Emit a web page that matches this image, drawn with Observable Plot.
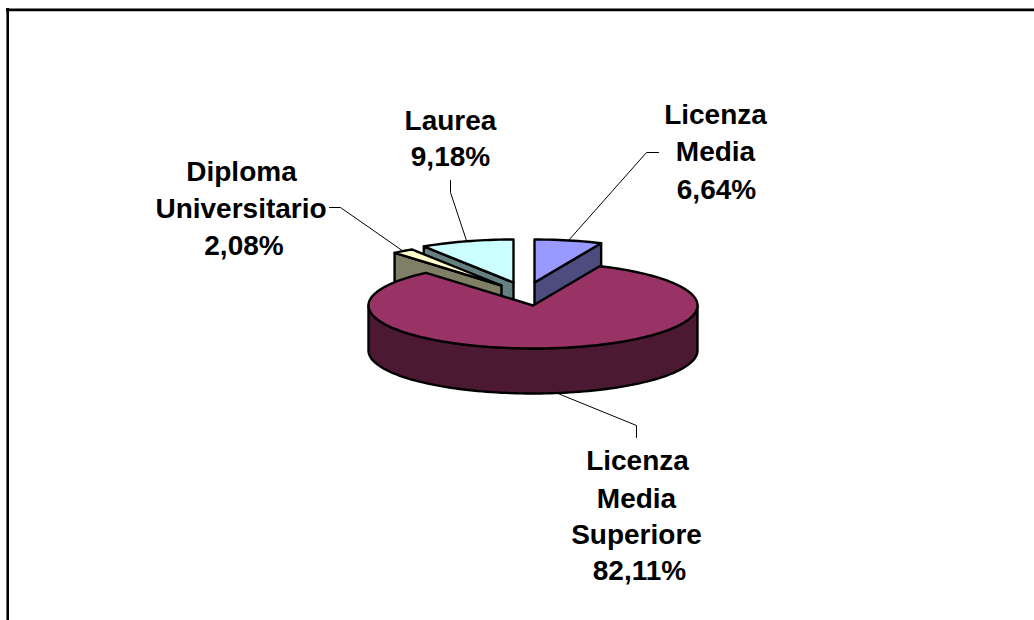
<!DOCTYPE html>
<html>
<head>
<meta charset="utf-8">
<script src="https://cdn.jsdelivr.net/npm/d3@7"></script>
<script src="https://cdn.jsdelivr.net/npm/@observablehq/plot@0.6"></script>
<style>html,body{margin:0;padding:0;background:#fff}svg{display:block}</style>
</head>
<body>
<div id="chart"></div>
<script>
// ---- data
const categories = ["Licenza Media", "Licenza Media Superiore", "Diploma Universitario", "Laurea"];
const shares = [6.64, 82.11, 2.08, 9.18];
const shareLabels = ["6,64%", "82,11%", "2,08%", "9,18%"];

// ---- colours (top face, side wall)
const topColors = ["#9999ff", "#993366", "#ffffcc", "#ccffff"];
const wallColors = ["#4c4c7f", "#4c1933", "#7f7f66", "#667f7f"];

// ---- layout, in page pixels, converted to pie-radius units for the scales
const W = 1034, H = 620;
const cx = 532.5, cy = 305, rx = 164.5, ry = 43, depthPx = 45;
const ux = (p) => (p - cx) / rx;
const uy = (p) => (cy - p) / ry;
const depth = depthPx / ry;
const apexPx = [[534, 282], [cx, cy], [501, 285], [513, 282]];
const leaderPx = [
  [[646, 152], [658, 152]],
  [[636, 425], [636, 437]],
  [[340, 207], [329, 207]],
  [[450, 192], [450, 180]]
];
const labelPx = [
  [["Licenza", 715, 123], ["Media", 715, 160], [shareLabels[0], 716, 198]],
  [["Licenza", 637, 469], ["Media", 636, 507], ["Superiore", 636, 543], [shareLabels[1], 639, 579]],
  [["Diploma", 241, 180], ["Universitario", 240.5, 217], [shareLabels[2], 243.5, 254]],
  [["Laurea", 450, 129], [shareLabels[3], 450, 165]]
];

// ---- angles: clockwise from the top of the ellipse, starting with the first slice
const total = d3.sum(shares);
let acc = 0;
const slices = categories.map((name, i) => {
  const a0 = acc / total * 2 * Math.PI;
  acc += shares[i];
  const a1 = acc / total * 2 * Math.PI;
  return {name, i, a0, a1, mid: (a0 + a1) / 2, c: [ux(apexPx[i][0]), uy(apexPx[i][1])]};
});
const onRim = (s, a, drop = 0) => ({x: s.c[0] + Math.sin(a), y: s.c[1] + Math.cos(a) - drop});
const arc = (s, a0, a1, drop = 0) => {
  const n = Math.max(2, Math.ceil(Math.abs(a1 - a0) / 0.03));
  return d3.range(n + 1).map((k) => onRim(s, a0 + (a1 - a0) * k / n, drop));
};
const apex = (s, drop = 0) => ({x: s.c[0], y: s.c[1] - drop});
const face = (s) => [apex(s), ...arc(s, s.a0, s.a1)];
// cut face on a given angle, extruded downward
const cutWall = (s, a) => [apex(s), onRim(s, a), onRim(s, a, depth), apex(s, depth)];
// outer wall between two angles, extruded downward
const rimWall = (s, a0, a1) => [...arc(s, a0, a1), ...arc(s, a1, a0, depth)];

const poly = (points, fill) => Plot.line(points, {
  x: "x", y: "y", fill, stroke: "#000", strokeWidth: 2.4, strokeLinejoin: "round", curve: "linear-closed"
});

const [sMedia, sMain, sDiploma, sLaurea] = slices;

const leaders = slices.map((s) => {
  const drop = s === sMain ? depth : 0;
  return Plot.line([onRim(s, s.mid, drop), ...leaderPx[s.i].map(([x, y]) => ({x: ux(x), y: uy(y)}))], {
    x: "x", y: "y", stroke: "#000", strokeWidth: 1
  });
});

const labelRows = slices.flatMap((s) => labelPx[s.i].map(([text, x, y]) => ({text, x: ux(x), y: uy(y)})));

const chart = Plot.plot({
  width: W, height: H,
  margin: 0,
  style: {background: "#fff"},
  x: {domain: [ux(0), ux(W)], range: [0, W], axis: null},
  y: {domain: [uy(H), uy(0)], range: [H, 0], axis: null},
  marks: [
    Plot.ruleY([uy(9.3)], {x1: ux(6), x2: ux(W), stroke: "#000", strokeWidth: 2.8}),
    Plot.ruleX([ux(7.2)], {y1: uy(8), y2: uy(H), stroke: "#000", strokeWidth: 2.6}),
    ...leaders,
    // Laurea, then Diploma, then Licenza Media, and the large slice in front
    poly(cutWall(sLaurea, sLaurea.a0), wallColors[3]),
    poly(face(sLaurea), topColors[3]),
    poly(cutWall(sDiploma, sDiploma.a0), wallColors[2]),
    poly(face(sDiploma), topColors[2]),
    poly(cutWall(sMedia, sMedia.a1), wallColors[0]),
    poly(face(sMedia), topColors[0]),
    poly(rimWall(sMain, Math.PI / 2, 3 * Math.PI / 2), wallColors[1]),
    poly(face(sMain), topColors[1]),
    Plot.text(labelRows, {
      x: "x", y: "y", text: "text", textAnchor: "middle", lineAnchor: "bottom",
      fontFamily: "Liberation Sans", fontWeight: "bold", fontSize: 28, fill: "#000"
    })
  ]
});
document.getElementById("chart").append(chart);
</script>
</body>
</html>
